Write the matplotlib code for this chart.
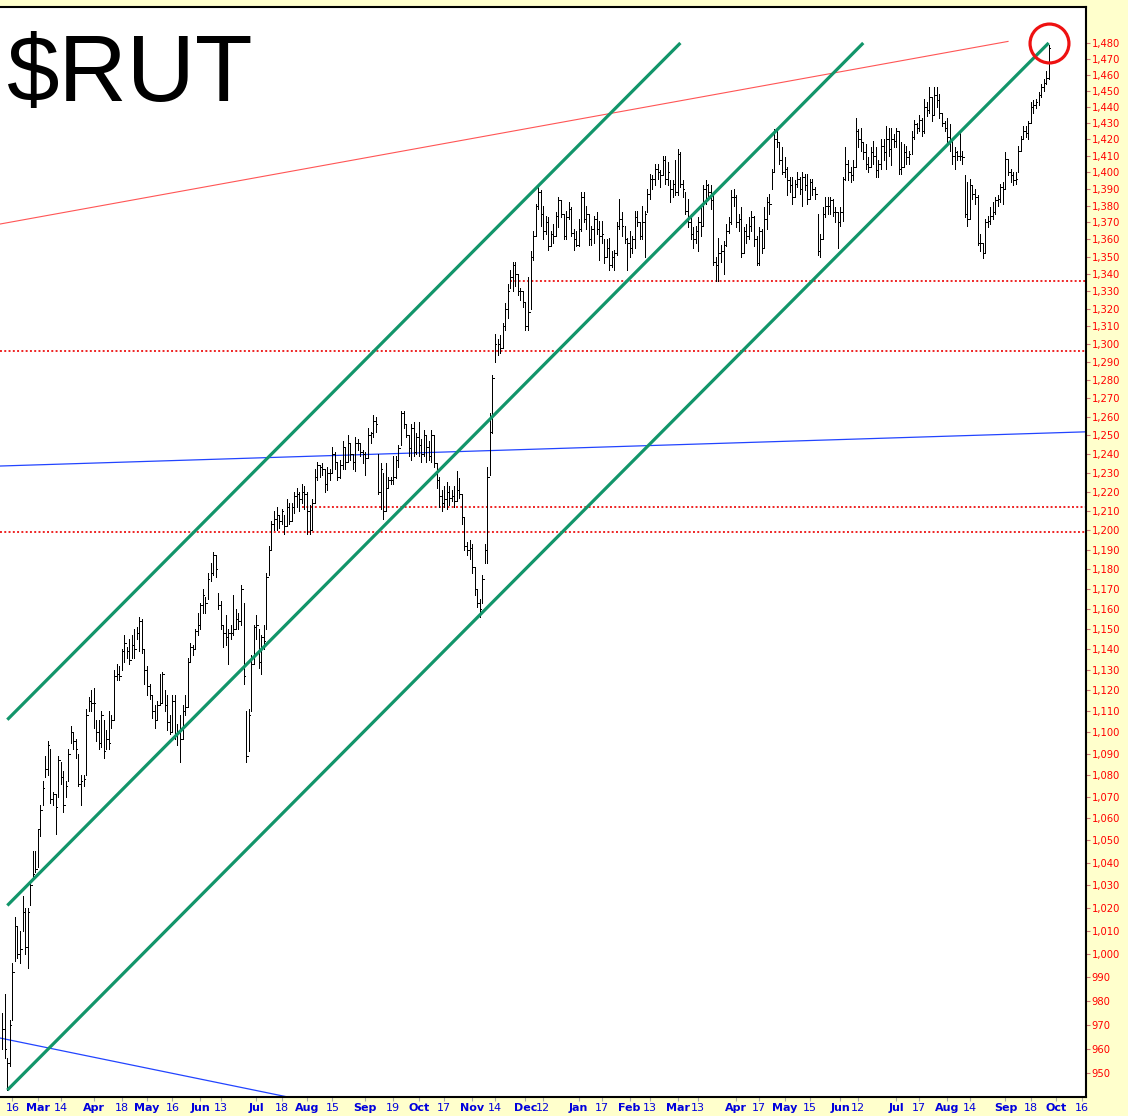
import numpy as np
import pandas as pd
import matplotlib
matplotlib.use("Agg")
import matplotlib.pyplot as plt
from matplotlib.collections import LineCollection
from matplotlib.ticker import NullLocator

# daily $RUT bars (high / low / close), 2016-02-09 .. 2017-09-27
high = [
	975, 983, 956, 972, 996, 1016, 1012, 1010, 1025, 1020,
	1020, 1031, 1045, 1045, 1055, 1066, 1077, 1089, 1096, 1092,
	1072, 1071, 1089, 1086, 1082, 1077, 1092, 1103, 1100, 1097,
	1090, 1080, 1080, 1111, 1117, 1120, 1121, 1106, 1106, 1110,
	1106, 1101, 1110, 1108, 1130, 1133, 1132, 1140, 1147, 1141,
	1145, 1147, 1150, 1151, 1156, 1155, 1140, 1132, 1123, 1118,
	1113, 1115, 1128, 1129, 1120, 1118, 1108, 1118, 1118, 1104,
	1108, 1113, 1118, 1136, 1143, 1142, 1150, 1158, 1163, 1170,
	1166, 1178, 1183, 1189, 1187, 1168, 1164, 1152, 1157, 1150,
	1152, 1167, 1160, 1158, 1172, 1163, 1110, 1111, 1137, 1152,
	1157, 1150, 1147, 1152, 1178, 1192, 1205, 1210, 1212, 1208,
	1211, 1208, 1216, 1214, 1214, 1220, 1222, 1220, 1224, 1223,
	1220, 1213, 1216, 1232, 1236, 1234, 1235, 1232, 1233, 1232,
	1244, 1241, 1236, 1237, 1247, 1244, 1250, 1246, 1240, 1249,
	1248, 1246, 1242, 1241, 1254, 1252, 1261, 1260, 1240, 1235,
	1230, 1235, 1228, 1228, 1239, 1239, 1245, 1263, 1263, 1256,
	1250, 1256, 1257, 1251, 1257, 1248, 1253, 1250, 1247, 1253,
	1250, 1235, 1228, 1221, 1223, 1225, 1223, 1221, 1223, 1231,
	1227, 1219, 1207, 1194, 1195, 1193, 1181, 1170, 1165, 1177,
	1193, 1233, 1262, 1283, 1306, 1303, 1305, 1312, 1323, 1334,
	1342, 1347, 1347, 1340, 1332, 1330, 1324, 1338, 1353, 1365,
	1381, 1391, 1389, 1380, 1374, 1373, 1365, 1369, 1376, 1385,
	1383, 1375, 1377, 1382, 1379, 1366, 1365, 1372, 1388, 1388,
	1380, 1375, 1368, 1374, 1376, 1371, 1371, 1360, 1360, 1361,
	1353, 1354, 1370, 1384, 1376, 1368, 1361, 1365, 1362, 1377,
	1377, 1370, 1380, 1377, 1390, 1399, 1398, 1405, 1405, 1401,
	1410, 1410, 1406, 1395, 1395, 1407, 1414, 1412, 1395, 1388,
	1384, 1375, 1367, 1368, 1373, 1380, 1392, 1395, 1393, 1392,
	1388, 1350, 1361, 1357, 1359, 1369, 1373, 1389, 1390, 1386,
	1375, 1379, 1367, 1369, 1373, 1377, 1374, 1362, 1367, 1366,
	1379, 1385, 1387, 1402, 1426, 1427, 1418, 1415, 1409, 1403,
	1397, 1397, 1395, 1400, 1397, 1400, 1399, 1399, 1396, 1396,
	1391, 1375, 1363, 1379, 1385, 1385, 1385, 1384, 1379, 1376,
	1379, 1397, 1415, 1407, 1403, 1407, 1433, 1426, 1427, 1418,
	1417, 1409, 1415, 1419, 1415, 1407, 1420, 1420, 1428, 1427,
	1427, 1423, 1427, 1425, 1418, 1417, 1416, 1413, 1425, 1432,
	1430, 1435, 1433, 1445, 1443, 1452, 1446, 1452, 1452, 1448,
	1436, 1431, 1433, 1429, 1420, 1415, 1413, 1424, 1413, 1398,
	1394, 1396, 1392, 1390, 1386, 1363, 1358, 1372, 1374, 1379,
	1382, 1385, 1386, 1393, 1394, 1412, 1408, 1402, 1400, 1400,
	1416, 1422, 1428, 1428, 1431, 1443, 1444, 1445, 1449, 1454,
	1457, 1462, 1479,
]
low = [
	960, 956, 943, 953, 972, 997, 998, 996, 1010, 1000,
	994, 1021, 1033, 1036, 1038, 1052, 1066, 1079, 1080, 1067,
	1066, 1053, 1070, 1076, 1063, 1070, 1077, 1095, 1092, 1088,
	1075, 1066, 1075, 1080, 1110, 1110, 1102, 1096, 1092, 1093,
	1088, 1092, 1092, 1102, 1106, 1125, 1125, 1130, 1134, 1136,
	1133, 1136, 1136, 1145, 1139, 1138, 1123, 1118, 1116, 1107,
	1102, 1106, 1113, 1114, 1110, 1101, 1099, 1100, 1097, 1094,
	1086, 1097, 1108, 1112, 1134, 1137, 1140, 1147, 1150, 1158,
	1158, 1165, 1174, 1177, 1176, 1160, 1150, 1141, 1142, 1133,
	1145, 1147, 1150, 1150, 1152, 1123, 1086, 1091, 1110, 1133,
	1145, 1131, 1128, 1140, 1150, 1177, 1190, 1200, 1200, 1201,
	1203, 1198, 1202, 1203, 1205, 1209, 1212, 1210, 1214, 1211,
	1198, 1198, 1200, 1214, 1226, 1228, 1229, 1220, 1221, 1226,
	1230, 1232, 1226, 1227, 1232, 1232, 1236, 1237, 1232, 1231,
	1242, 1239, 1235, 1229, 1238, 1246, 1249, 1252, 1219, 1211,
	1206, 1210, 1222, 1224, 1224, 1227, 1233, 1245, 1254, 1249,
	1239, 1237, 1239, 1240, 1239, 1236, 1239, 1236, 1237, 1236,
	1233, 1222, 1212, 1210, 1212, 1211, 1213, 1215, 1212, 1215,
	1217, 1203, 1190, 1187, 1185, 1178, 1167, 1161, 1156, 1163,
	1183, 1183, 1229, 1251, 1290, 1294, 1295, 1298, 1308, 1315,
	1332, 1330, 1333, 1328, 1325, 1321, 1308, 1308, 1320, 1348,
	1362, 1378, 1368, 1360, 1363, 1354, 1356, 1358, 1362, 1367,
	1373, 1360, 1360, 1372, 1362, 1354, 1356, 1356, 1365, 1370,
	1366, 1357, 1357, 1358, 1363, 1348, 1358, 1346, 1350, 1342,
	1344, 1342, 1351, 1366, 1362, 1358, 1342, 1350, 1352, 1355,
	1368, 1360, 1360, 1350, 1376, 1384, 1390, 1392, 1396, 1391,
	1398, 1393, 1392, 1382, 1385, 1386, 1386, 1391, 1385, 1375,
	1367, 1360, 1355, 1358, 1353, 1362, 1368, 1381, 1383, 1378,
	1345, 1336, 1336, 1347, 1340, 1356, 1364, 1369, 1380, 1367,
	1365, 1350, 1352, 1358, 1360, 1365, 1356, 1345, 1345, 1352,
	1355, 1366, 1375, 1390, 1400, 1415, 1405, 1399, 1397, 1386,
	1388, 1381, 1385, 1391, 1387, 1380, 1389, 1381, 1384, 1386,
	1384, 1351, 1350, 1360, 1373, 1375, 1375, 1374, 1370, 1355,
	1368, 1371, 1395, 1395, 1394, 1395, 1403, 1415, 1413, 1408,
	1402, 1400, 1403, 1405, 1397, 1397, 1402, 1407, 1402, 1410,
	1404, 1415, 1415, 1399, 1399, 1403, 1405, 1405, 1411, 1420,
	1424, 1425, 1422, 1424, 1434, 1436, 1431, 1435, 1440, 1433,
	1428, 1425, 1418, 1413, 1405, 1402, 1407, 1407, 1405, 1373,
	1368, 1372, 1384, 1381, 1357, 1353, 1349, 1352, 1367, 1369,
	1372, 1375, 1380, 1382, 1381, 1390, 1398, 1394, 1392, 1393,
	1400, 1413, 1420, 1421, 1420, 1430, 1436, 1439, 1441, 1446,
	1450, 1454, 1457,
]
close = [
	968, 960, 954, 970, 992, 1012, 1000, 1002, 1018, 1003,
	1018, 1030, 1035, 1037, 1055, 1064, 1074, 1083, 1094, 1069,
	1071, 1065, 1087, 1079, 1066, 1075, 1090, 1100, 1096, 1092,
	1076, 1077, 1078, 1108, 1115, 1114, 1114, 1100, 1095, 1108,
	1091, 1097, 1095, 1106, 1127, 1128, 1127, 1139, 1143, 1139,
	1135, 1142, 1140, 1148, 1154, 1140, 1130, 1122, 1118, 1110,
	1106, 1113, 1114, 1128, 1113, 1105, 1100, 1115, 1099, 1100,
	1097, 1110, 1112, 1134, 1141, 1140, 1149, 1152, 1162, 1167,
	1163, 1175, 1178, 1187, 1180, 1162, 1152, 1148, 1146, 1148,
	1148, 1150, 1155, 1154, 1170, 1127, 1089, 1108, 1133, 1151,
	1152, 1134, 1146, 1144, 1176, 1190, 1203, 1206, 1208, 1205,
	1210, 1202, 1212, 1205, 1212, 1218, 1219, 1216, 1220, 1219,
	1210, 1200, 1214, 1228, 1234, 1233, 1232, 1224, 1230, 1230,
	1240, 1236, 1228, 1234, 1244, 1236, 1246, 1240, 1236, 1246,
	1246, 1241, 1240, 1238, 1250, 1251, 1258, 1256, 1220, 1232,
	1210, 1222, 1226, 1226, 1228, 1237, 1243, 1262, 1256, 1250,
	1243, 1254, 1241, 1249, 1245, 1240, 1250, 1244, 1239, 1250,
	1235, 1226, 1218, 1214, 1216, 1220, 1217, 1218, 1215, 1221,
	1219, 1207, 1192, 1190, 1191, 1181, 1170, 1163, 1160, 1175,
	1190, 1228, 1252, 1281, 1300, 1300, 1298, 1310, 1320, 1330,
	1338, 1345, 1340, 1330, 1330, 1324, 1310, 1318, 1350, 1362,
	1380, 1388, 1375, 1365, 1370, 1356, 1363, 1362, 1374, 1383,
	1375, 1362, 1373, 1378, 1364, 1360, 1357, 1366, 1385, 1372,
	1375, 1360, 1366, 1372, 1366, 1362, 1363, 1350, 1355, 1345,
	1350, 1352, 1368, 1372, 1368, 1360, 1358, 1355, 1360, 1373,
	1370, 1362, 1370, 1375, 1387, 1396, 1396, 1402, 1400, 1398,
	1407, 1396, 1400, 1390, 1393, 1388, 1411, 1393, 1390, 1377,
	1370, 1363, 1360, 1365, 1370, 1368, 1390, 1392, 1388, 1383,
	1347, 1345, 1352, 1353, 1357, 1365, 1370, 1385, 1385, 1370,
	1372, 1352, 1365, 1362, 1368, 1373, 1360, 1346, 1365, 1355,
	1372, 1382, 1381, 1400, 1420, 1418, 1407, 1400, 1402, 1395,
	1392, 1385, 1393, 1396, 1390, 1397, 1392, 1384, 1394, 1390,
	1387, 1353, 1360, 1375, 1380, 1380, 1383, 1376, 1376, 1370,
	1376, 1396, 1405, 1400, 1398, 1403, 1425, 1420, 1418, 1412,
	1405, 1403, 1412, 1410, 1401, 1405, 1416, 1412, 1420, 1414,
	1420, 1419, 1425, 1402, 1403, 1412, 1409, 1411, 1421, 1429,
	1427, 1432, 1425, 1440, 1438, 1446, 1435, 1447, 1444, 1436,
	1430, 1427, 1421, 1420, 1410, 1412, 1410, 1410, 1409, 1375,
	1372, 1392, 1387, 1385, 1358, 1358, 1352, 1370, 1371, 1374,
	1376, 1383, 1384, 1391, 1390, 1408, 1400, 1398, 1395, 1396,
	1413, 1420, 1425, 1424, 1430, 1440, 1441, 1443, 1447, 1452,
	1455, 1458, 1477,
]

# exchange holidays, so the x axis counts trading days only
holidays = [
	"2016-02-15", "2016-03-25", "2016-05-30", "2016-07-04", "2016-09-05",
	"2016-11-24", "2016-12-26", "2017-01-02", "2017-01-16", "2017-02-20",
	"2017-04-14", "2017-05-29", "2017-07-04", "2017-09-04",
]
day_ticks = [
	"2016-02-16", "2016-03-14", "2016-04-18", "2016-05-16", "2016-06-13",
	"2016-07-18", "2016-08-15", "2016-09-19", "2016-10-17", "2016-11-14",
	"2016-12-12", "2017-01-17", "2017-02-13", "2017-03-13", "2017-04-17",
	"2017-05-15", "2017-06-12", "2017-07-17", "2017-08-14", "2017-09-18",
	"2017-10-16",
]

# trend lines drawn on the chart: (date, price) -> (date, price)
channel = [
	(("2016-02-11", 1106), ("2017-03-02", 1480)),
	(("2016-02-11", 1021), ("2017-06-14", 1480)),
	(("2016-02-11", 943), ("2017-09-27", 1480)),
]
red_trend = (("2016-02-08", 1369), ("2017-09-05", 1481))
blue_trends = [
	(("2016-02-08", 1233.6), ("2017-10-20", 1252)),
	(("2016-02-08", 964.4), ("2016-08-31", 934)),
]
# horizontal support levels: (price, first date or None for full width)
levels = [(1336, "2016-11-22"), (1296, None), (1212, "2016-07-28"), (1199, None)]
circle_at = ("2017-09-27", 1480)

dates = pd.bdate_range("2016-02-08", "2017-10-31", freq="C", holidays=holidays)

def xi(d):
	return dates.get_loc(pd.Timestamp(d))

fig = plt.figure(figsize=(11.28, 11.16), dpi=100, facecolor="#ffffcc")
ax = fig.add_axes([0, 19/1116, 1086/1128, 1090/1116])
ax.set_facecolor("white")
ax.set_yscale("log")

x0, x1 = 0.12, 427.7
ax.set_xlim(x0, x1)
ax.set_ylim(940.2, 1503.1)

# HLC bars, 1px wide like the source chart
xs = np.arange(1, len(close) + 1)
segs = []
for x, h, l, c in zip(xs, high, low, close):
	segs.append([(x, l), (x, h)])
	segs.append([(x, c), (x + 0.6, c)])
ax.add_collection(LineCollection(segs, colors="black", linewidths=0.72,
	antialiaseds=False, zorder=3))

for (d0, p0), (d1, p1) in channel:
	ax.plot([xi(d0), xi(d1)], [p0, p1], color="#12956a", lw=2.3, zorder=4,
		solid_capstyle="butt")

(d0, p0), (d1, p1) = red_trend
ax.plot([xi(d0), xi(d1)], [p0, p1], color="#ff5555", lw=0.8, zorder=2)

for (d0, p0), (d1, p1) in blue_trends:
	ax.plot([xi(d0), xi(d1)], [p0, p1], color="#2244ff", lw=0.9, zorder=2)

for p, start in levels:
	xa = x0 if start is None else xi(start)
	ax.plot([xa, x1], [p, p], color="#ee2222", lw=1.4, ls=(0, (1, 1.2)), zorder=2)

ax.plot([xi(circle_at[0])], [circle_at[1]], marker="o", ms=28, mfc="none",
	mec="#ee1111", mew=2.3, zorder=5)

# right price axis
ax.yaxis.tick_right()
yt = list(range(950, 1481, 10))
ax.set_yticks(yt)
ax.set_yticklabels([f"{v:,}" for v in yt])
ax.yaxis.set_minor_locator(NullLocator())
ax.tick_params(axis="y", which="major", length=3, width=0.8, color="#cc7777",
	labelcolor="red", labelsize=7.2, pad=1)

# bottom date axis: bold month names at first session, day numbers on ticks
month_pos, month_lab = [], []
for m in pd.period_range("2016-03", "2017-10", freq="M"):
	first = dates[(dates.year == m.year) & (dates.month == m.month)][0]
	month_pos.append(dates.get_loc(first))
	month_lab.append(first.strftime("%b"))
day_pos = [xi(d) for d in day_ticks]
day_lab = [str(pd.Timestamp(d).day) for d in day_ticks]

ax.set_xticks(month_pos + day_pos)
ax.set_xticklabels(month_lab + day_lab)
for i, t in enumerate(ax.get_xticklabels()):
	if i < len(month_pos):
		t.set_fontweight("bold")
ax.xaxis.set_minor_locator(NullLocator())
ax.tick_params(axis="x", length=3, width=0.8, color="#aaaaaa",
	labelcolor="#0000dd", labelsize=8, pad=1)

for s in ["right", "top", "bottom"]:
	ax.spines[s].set_linewidth(1.5)
	ax.spines[s].set_color("black")
ax.spines["left"].set_visible(False)

fig.text(7/1128, 1 - 101/1116, "$RUT", fontsize=68, family="Liberation Sans",
	va="baseline", ha="left", color="black")

fig.savefig("out.png", dpi=100, facecolor=fig.get_facecolor())
